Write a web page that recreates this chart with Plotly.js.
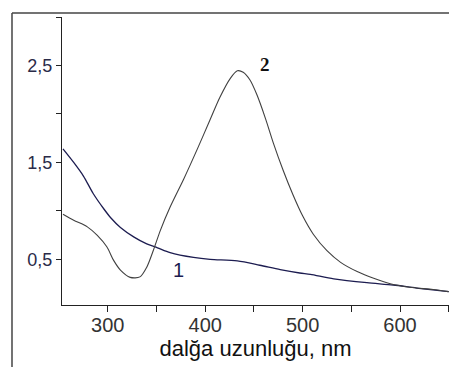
<!DOCTYPE html>
<html>
<head>
<meta charset="utf-8">
<script src="https://cdn.plot.ly/plotly-3.0.1.min.js"></script>
<style>html,body{margin:0;padding:0;background:#fff;}#chart{width:449px;height:367px;}</style>
</head>
<body>
<div id="chart"></div>
<script>
// Curve 1
const wl1 = [254, 265, 275, 285, 296, 303, 313, 327, 340, 351, 364, 388, 405, 433, 456, 477, 497, 508, 532, 566, 593, 617, 650];
const abs1 = [1.64, 1.50, 1.36, 1.18, 1.02, 0.93, 0.83, 0.73, 0.66, 0.62, 0.57, 0.52, 0.50, 0.485, 0.44, 0.395, 0.36, 0.345, 0.30, 0.26, 0.236, 0.205, 0.168];
// Curve 2
const wl2 = [254, 265, 279, 289, 299, 306, 313, 323, 333, 340, 347, 354, 364, 378, 392, 405, 415, 426, 433, 439, 446, 453, 462, 470, 480, 490, 500, 511, 525, 539, 556, 573, 590, 610, 634, 650];
const abs2 = [0.966, 0.904, 0.836, 0.75, 0.63, 0.49, 0.39, 0.315, 0.32, 0.42, 0.60, 0.80, 1.04, 1.33, 1.64, 1.94, 2.17, 2.37, 2.445, 2.43, 2.35, 2.20, 1.95, 1.70, 1.42, 1.17, 0.95, 0.76, 0.59, 0.47, 0.375, 0.305, 0.25, 0.213, 0.19, 0.168];
const xTickVals = [300, 400, 500, 600];
const xTickText = ['300', '400', '500', '600'];
const yTickVals = [0.5, 1.5, 2.5];
const yTickText = ['0,5', '1,5', '2,5'];
const curveLabels = ['1', '2'];
const labelPos = [[373, 0.39], [461.5, 2.51]];

const traces = [
  {x: wl1, y: abs1, mode: 'lines', line: {color: '#1c1c50', width: 1.3, shape: 'spline', smoothing: 0.8}, hoverinfo: 'skip'},
  {x: wl2, y: abs2, mode: 'lines', line: {color: '#404040', width: 1.1, shape: 'spline', smoothing: 0.8}, hoverinfo: 'skip'}
];

const layout = {
  width: 449, height: 367,
  margin: {l: 62, r: 0, t: 17, b: 62},
  paper_bgcolor: '#fff', plot_bgcolor: '#fff',
  showlegend: false,
  xaxis: {
    range: [253, 650.3], showgrid: false, zeroline: false,
    showline: true, linecolor: '#222', linewidth: 1.2,
    tickmode: 'array', tickvals: xTickVals, ticktext: xTickText,
    ticks: 'outside', ticklen: 6, tickcolor: '#222', tickwidth: 1,
    ticklabelstandoff: -4,
    minor: {dtick: 50, tick0: 0, ticks: 'outside', ticklen: 6, tickcolor: '#222', tickwidth: 1},
    tickfont: {family: 'Liberation Sans, Arial, sans-serif', size: 20, color: '#333'},
    title: {text: 'dalğa uzunluğu, nm', font: {family: 'Liberation Sans, Arial, sans-serif', size: 22, color: '#111'}, standoff: 2},
    automargin: false, fixedrange: true
  },
  yaxis: {
    range: [0.03, 3.0], showgrid: false, zeroline: false,
    showline: true, linecolor: '#222', linewidth: 1.2,
    tickmode: 'array', tickvals: yTickVals, ticktext: yTickText,
    ticks: 'outside', ticklen: 5, tickcolor: '#222', tickwidth: 1,
    minor: {dtick: 0.5, tick0: 0, ticks: 'outside', ticklen: 5, tickcolor: '#222', tickwidth: 1},
    tickfont: {family: 'Liberation Sans, Arial, sans-serif', size: 18, color: '#2a2a48'},
    automargin: false, fixedrange: true
  },
  shapes: [
    {type: 'line', xref: 'paper', yref: 'paper', x0: -0.1292, x1: -0.1292, y0: 1.0139, y1: -0.3, line: {color: '#444', width: 1.5}},
    {type: 'line', xref: 'paper', yref: 'paper', x0: -0.1292, x1: 1.05, y0: 1.0139, y1: 1.0139, line: {color: '#444', width: 1.5}}
  ],
  annotations: [
    {x: labelPos[0][0], y: labelPos[0][1], text: curveLabels[0], showarrow: false, font: {family: 'Liberation Sans, Arial, sans-serif', size: 20, color: '#1c1c50'}},
    {x: labelPos[1][0], y: labelPos[1][1], text: '<b>' + curveLabels[1] + '</b>', showarrow: false, font: {family: 'Liberation Serif, Times New Roman, serif', size: 19, color: '#111'}}
  ]
};

Plotly.newPlot('chart', traces, layout, {displayModeBar: false, staticPlot: true});
</script>
</body>
</html>
